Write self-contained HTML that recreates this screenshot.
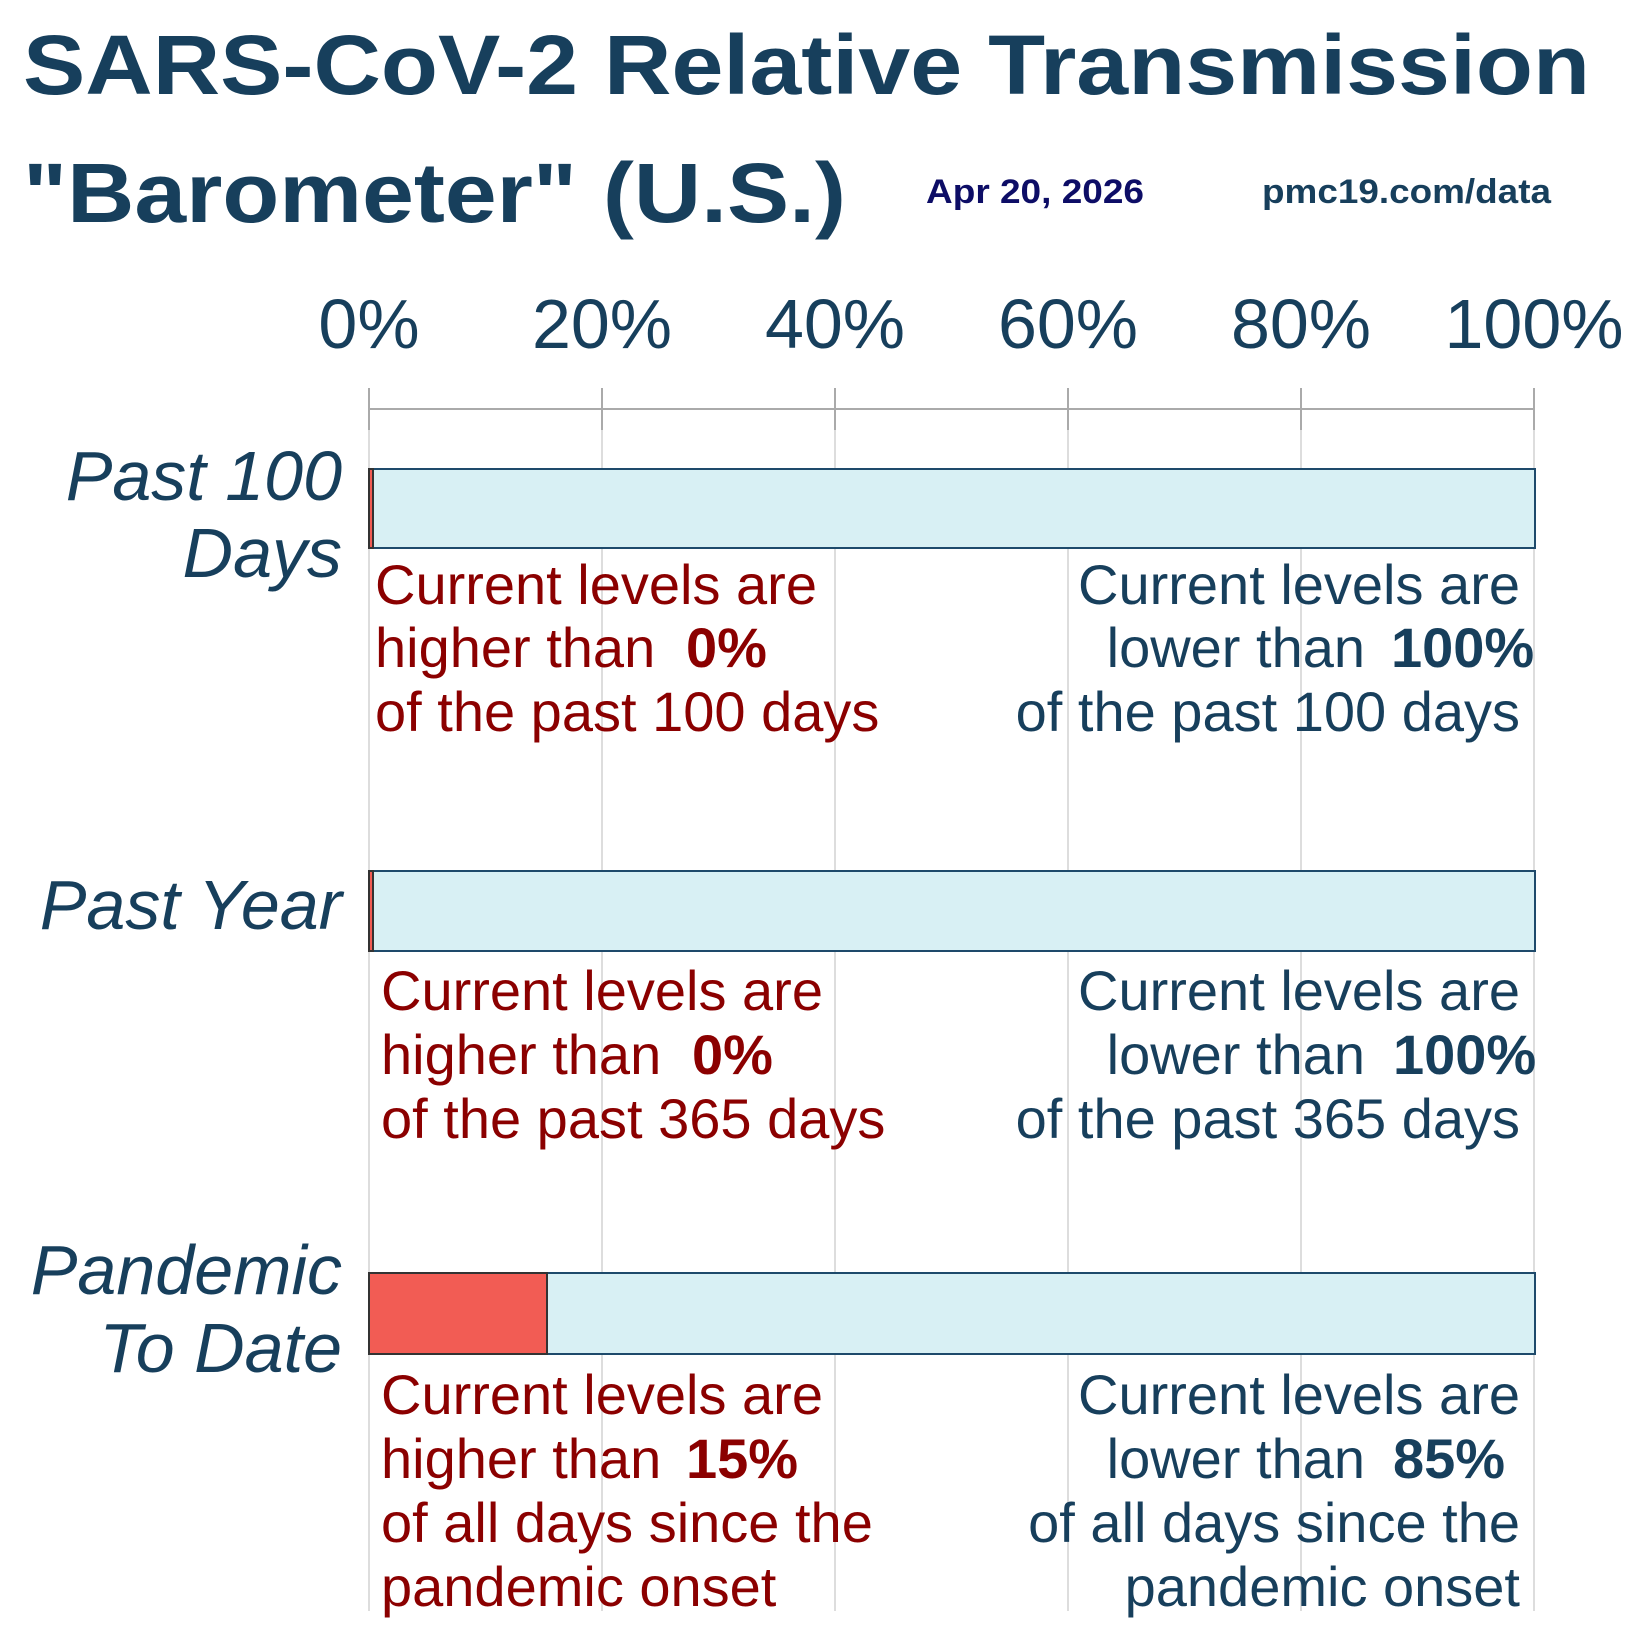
<!DOCTYPE html>
<html><head><meta charset="utf-8"><style>
html,body{margin:0;padding:0;background:#fff}
svg{display:block}
text{font-family:"Liberation Sans",Arial,sans-serif}
</style></head><body>
<svg width="1640" height="1635" viewBox="0 0 1640 1635" xmlns="http://www.w3.org/2000/svg">
<g fill="#173f5c" font-weight="bold">
<text x="23" y="94" font-size="84" textLength="1567" lengthAdjust="spacingAndGlyphs">SARS-CoV-2 Relative Transmission</text>
<text x="23" y="222" font-size="84" textLength="823" lengthAdjust="spacingAndGlyphs">"Barometer" (U.S.)</text>
<text x="1262" y="203" font-size="34" textLength="289" lengthAdjust="spacingAndGlyphs">pmc19.com/data</text>
</g>
<text x="926" y="203" font-size="34" font-weight="bold" fill="#0d0d66" textLength="218" lengthAdjust="spacingAndGlyphs">Apr 20, 2026</text>
<g fill="#173f5c" font-size="70" text-anchor="middle">
<text x="369" y="348">0%</text><text x="602" y="348">20%</text><text x="835" y="348">40%</text>
<text x="1068" y="348">60%</text><text x="1301" y="348">80%</text><text x="1534" y="348">100%</text>
</g>
<g stroke="#ddd" stroke-width="2">
<line x1="369" y1="430" x2="369" y2="1611"/><line x1="602" y1="430" x2="602" y2="1611"/><line x1="835" y1="430" x2="835" y2="1611"/>
<line x1="1068" y1="430" x2="1068" y2="1611"/><line x1="1301" y1="430" x2="1301" y2="1611"/><line x1="1534" y1="430" x2="1534" y2="1611"/>
</g>
<g stroke="#aaa" stroke-width="2">
<line x1="369" y1="409" x2="1535" y2="409"/>
<line x1="369" y1="388" x2="369" y2="430"/><line x1="602" y1="388" x2="602" y2="430"/><line x1="835" y1="388" x2="835" y2="430"/>
<line x1="1068" y1="388" x2="1068" y2="430"/><line x1="1301" y1="388" x2="1301" y2="430"/><line x1="1534" y1="388" x2="1534" y2="430"/>
</g>
<g stroke="#1e4a6b" stroke-width="2">
<rect x="369" y="469" width="1166" height="79" fill="#d8f0f4"/>
<rect x="369" y="469" width="4" height="79" fill="#f25c54" stroke="#333"/>
<rect x="369" y="871" width="1166" height="80" fill="#d8f0f4"/>
<rect x="369" y="871" width="4" height="80" fill="#f25c54" stroke="#333"/>
<rect x="369" y="1273" width="1166" height="81" fill="#d8f0f4"/>
<rect x="369" y="1273" width="178" height="81" fill="#f25c54" stroke="#333"/>
</g>
<g fill="#173f5c" font-size="70" font-style="italic" text-anchor="end">
<text x="342" y="500">Past 100</text><text x="342" y="577">Days</text>
<text x="342" y="929">Past Year</text>
<text x="342" y="1294">Pandemic</text><text x="342" y="1372">To Date</text>
</g>
<g fill="#8b0000" font-size="56">
<text x="375" y="604">Current levels are</text>
<text x="375" y="667">higher than</text><text x="686" y="667" font-weight="bold">0%</text>
<text x="375" y="731">of the past 100 days</text>
<text x="381" y="1010">Current levels are</text>
<text x="381" y="1074">higher than</text><text x="692" y="1074" font-weight="bold">0%</text>
<text x="381" y="1138">of the past 365 days</text>
<text x="381" y="1414">Current levels are</text>
<text x="381" y="1478">higher than</text><text x="686" y="1478" font-weight="bold">15%</text>
<text x="381" y="1542">of all days since the</text>
<text x="381" y="1606">pandemic onset</text>
</g>
<g fill="#173f5c" font-size="56">
<text x="1520" y="604" text-anchor="end">Current levels are</text>
<text x="1365" y="667" text-anchor="end">lower than</text><text x="1391" y="667" font-weight="bold">100%</text>
<text x="1520" y="731" text-anchor="end">of the past 100 days</text>
<text x="1520" y="1010" text-anchor="end">Current levels are</text>
<text x="1365" y="1074" text-anchor="end">lower than</text><text x="1393" y="1074" font-weight="bold">100%</text>
<text x="1520" y="1138" text-anchor="end">of the past 365 days</text>
<text x="1520" y="1414" text-anchor="end">Current levels are</text>
<text x="1365" y="1478" text-anchor="end">lower than</text><text x="1393" y="1478" font-weight="bold">85%</text>
<text x="1520" y="1542" text-anchor="end">of all days since the</text>
<text x="1520" y="1606" text-anchor="end">pandemic onset</text>
</g>
</svg>
</body></html>
